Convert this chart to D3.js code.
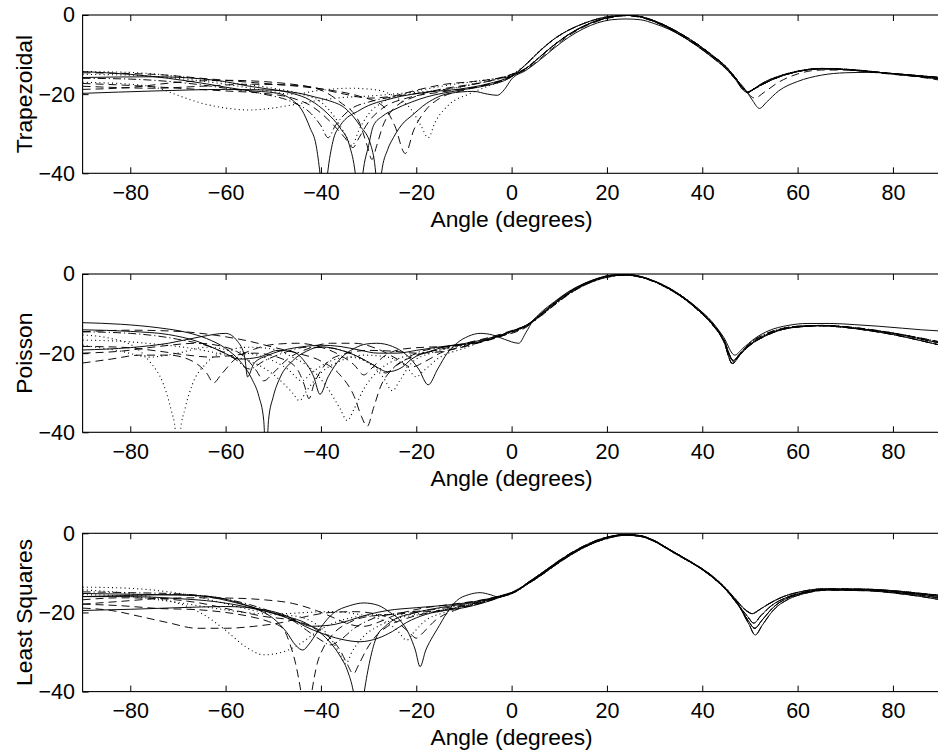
<!DOCTYPE html>
<html><head><meta charset="utf-8">
<script src="https://cdn.jsdelivr.net/npm/d3@7"></script>
<style>
body{margin:0;background:#fff;}
svg{display:block;font-family:"Liberation Sans",Arial,Helvetica,sans-serif;}
</style></head>
<body><svg id="chart" width="938" height="751"></svg>
<script>
// ---------- ticks / labels ----------
const angleTicks = [-80,-60,-40,-20,0,20,40,60,80];
const dbTicks = [0,-20,-40];
const panelLabels = ["Trapezoidal","Poisson","Least Squares"];
const xLabel = "Angle (degrees)";

// ---------- Trapezoidal: main lobe variants (3..90 deg) ----------
const trapMainA = [[3,-13.5],[6,-10.5],[9,-7.5],[12,-4.9],[15,-2.9],[18,-1.4],[21,-0.5],[24,-0.1],[27,-0.4],[30,-1.5],[33,-3.1],[36,-5.1],[39,-7.4],[42,-10.1],[45,-13.1],[47,-15.9],[48.5,-18.4],[49.5,-19.4],[51,-18.6],[53,-17.3],[56,-15.7],[60,-14.3],[65,-13.6],[70,-13.8],[75,-14.3],[80,-14.8],[85,-15.3],[90,-15.8]];
const trapMainB = [[3,-12.5],[6,-9],[9,-6],[12,-3.8],[15,-2.2],[18,-1],[21,-0.3],[24,-0.1],[27,-0.5],[30,-1.7],[33,-3.4],[36,-5.5],[39,-7.9],[42,-10.6],[45,-13.6],[47,-16.3],[48.5,-18.8],[49.5,-19.6],[51,-18.5],[53,-17],[56,-15.5],[60,-14.2],[65,-13.5],[70,-13.7],[75,-14.2],[80,-14.9],[85,-15.5],[90,-16.2]];
const trapMainC = [[3,-14],[6,-11.3],[9,-8.3],[12,-5.6],[15,-3.5],[18,-2],[21,-1.2],[24,-1],[27,-1.2],[30,-2.2],[33,-3.6],[36,-5.5],[39,-7.7],[42,-10.3],[45,-13.3],[47,-16],[49,-18.8],[50.5,-21.5],[52,-23.6],[53.5,-22],[56,-19.2],[60,-16.8],[65,-15.2],[70,-14.6],[75,-14.5],[80,-14.8],[85,-15.3],[90,-16]];
const trapMainD = [[3,-13.8],[6,-11],[9,-8],[12,-5.2],[15,-3.1],[18,-1.6],[21,-0.6],[24,-0.2],[27,-0.6],[30,-1.7],[33,-3.3],[36,-5.3],[39,-7.6],[42,-10.3],[45,-13.3],[47,-16.2],[49,-19],[51,-21],[53,-19.5],[56,-17],[60,-14.9],[65,-13.9],[70,-13.9],[75,-14.4],[80,-15],[85,-15.6],[90,-16.5]];
// ---------- Trapezoidal: sidelobe region (-90..0 deg) ----------
const trapS1 = [[-90,-14.3],[-80,-15],[-72,-16],[-64,-17.4],[-56,-19],[-49,-19.8],[-46,-21.5],[-44,-24],[-42.3,-28.5],[-41,-33],[-40.2,-40],[-39.4,-50],[-38.6,-40],[-37.5,-32],[-36,-28],[-31.8,-24],[-24.8,-21],[-17.8,-19.5],[-10.8,-18.7],[-5,-17.4],[0,-15.5]];
const trapS2 = [[-90,-19.8],[-75,-19.2],[-60,-18.8],[-50,-19],[-46,-19.8],[-42.3,-21.5],[-38.7,-24.8],[-36,-28.5],[-34,-33],[-32.8,-40],[-32,-50],[-31.2,-40],[-30,-33],[-29,-28],[-27,-25.5],[-24.8,-24],[-21,-22],[-17.8,-20.7],[-10.8,-19],[-6,-18],[0,-15.6]];
const trapS3 = [[-90,-15.8],[-75,-15.6],[-62,-16.5],[-55,-18],[-48,-19.2],[-44.4,-19.8],[-41,-20.8],[-38.7,-21.5],[-34.5,-24],[-31.8,-28],[-29.5,-33],[-28.5,-40],[-27.9,-50],[-27.3,-40],[-26,-34],[-24.8,-31],[-22.5,-27],[-21.3,-25.8],[-17.8,-22.3],[-13,-19.8],[-8,-19.3],[-5,-20],[-3,-20.3],[-1.5,-18.8],[0,-16.2]];
const trapD1 = [[-90,-17.3],[-80,-17.8],[-70,-18.5],[-60,-19.2],[-52,-19.8],[-46,-21],[-42,-23],[-38,-27],[-35,-31],[-33.3,-33.5],[-32,-31],[-30,-27],[-27,-23.5],[-22,-21],[-15,-19.5],[-8,-18.3],[-3,-17],[0,-15.3]];
const trapD2 = [[-90,-18],[-75,-18.5],[-65,-18],[-55,-17.5],[-45,-17.8],[-40,-19],[-36,-22],[-32,-27],[-30.3,-33],[-29.3,-36.5],[-28.3,-33],[-27,-28],[-25,-24],[-20,-20.5],[-15,-18.8],[-10,-17.8],[-5,-16.8],[0,-15]];
const trapD3 = [[-90,-14.6],[-75,-15],[-65,-16],[-55,-17],[-45,-18],[-38,-19],[-32,-20.5],[-27,-23],[-24.5,-28],[-22.3,-35],[-20.5,-29],[-18,-24],[-15,-21],[-10,-19],[-5,-17.5],[0,-15.5]];
const trapD4 = [[-90,-18.8],[-80,-18.3],[-70,-17],[-60,-16.5],[-50,-17],[-42,-18.2],[-35,-20],[-30,-21],[-25,-20.5],[-20,-19],[-14,-17.5],[-8,-16.8],[-3,-16],[0,-15]];
const trapP1 = [[-90,-17],[-80,-17.5],[-74,-18.5],[-70,-20.3],[-65,-22.3],[-60,-23.5],[-55,-24],[-50,-23.5],[-45,-22.5],[-40,-21.5],[-35,-20.8],[-30,-20.5],[-25,-20],[-20,-19.5],[-15,-19],[-10,-18],[-5,-16.5],[0,-15]];
const trapP2 = [[-90,-14.3],[-80,-14.5],[-70,-15.5],[-60,-17],[-50,-18.5],[-44,-20],[-40,-22],[-37,-26],[-35,-30],[-33.5,-33],[-32,-29],[-30,-25],[-27,-22],[-22,-19.8],[-17,-18.5],[-12,-17.5],[-6,-16.5],[0,-15.2]];
const trapP3 = [[-90,-15],[-80,-15.2],[-70,-16],[-60,-17.5],[-52,-19],[-46,-20],[-40,-19],[-34,-18.5],[-28,-19],[-24,-21],[-21,-24],[-19,-28],[-17.5,-31],[-16,-27],[-13,-22.5],[-9,-20],[-5,-18],[0,-15.5]];
const trapDD1 = [[-90,-16],[-80,-16.2],[-70,-17],[-60,-18.5],[-52,-20],[-46,-22],[-42,-25],[-40,-28],[-38.5,-31],[-37,-28],[-34,-24],[-30,-22],[-25,-20.7],[-18,-19.5],[-10,-18],[-4,-16.5],[0,-15.3]];

// ---------- Poisson: main lobe variants (6..90 deg) ----------
const poisMainA = [[6,-10.2],[9,-7.2],[12,-4.6],[15,-2.6],[18,-1.2],[21,-0.3],[24,-0.1],[27,-0.6],[30,-1.8],[33,-3.5],[36,-5.8],[39,-8.7],[42,-12.3],[44.5,-16.5],[46.5,-21.8],[48,-20],[50,-17.8],[53,-15.6],[56,-14.2],[60,-13.3],[65,-13],[70,-13.4],[75,-14.1],[80,-15],[85,-16.2],[90,-17.5]];
const poisMainB = [[6,-10.5],[9,-7.5],[12,-4.9],[15,-2.8],[18,-1.3],[21,-0.4],[24,-0.2],[27,-0.7],[30,-1.9],[33,-3.7],[36,-6],[39,-9],[42,-12.6],[44.5,-17],[46.3,-22.6],[48,-20.3],[50,-18],[53,-15.8],[56,-14.3],[60,-13.4],[65,-13.1],[70,-13.5],[75,-14.3],[80,-15.3],[85,-16.6],[90,-18]];
const poisMainC = [[6,-9.9],[9,-7],[12,-4.4],[15,-2.5],[18,-1.1],[21,-0.3],[24,-0.2],[27,-0.7],[30,-1.9],[33,-3.6],[36,-5.8],[39,-8.6],[42,-12],[44.5,-16],[46.8,-20.5],[48.5,-18.8],[51,-16.3],[54,-14.3],[58,-13],[62,-12.5],[67,-12.5],[72,-12.8],[77,-13.2],[82,-13.7],[86,-14.1],[90,-14.4]];
const poisMainD = [[6,-10.7],[9,-7.8],[12,-5.1],[15,-3],[18,-1.5],[21,-0.6],[24,-0.3],[27,-0.8],[30,-2],[33,-3.8],[36,-6.1],[39,-9],[42,-12.5],[44.5,-16.8],[46.5,-22],[48.2,-19.8],[50,-17.5],[53,-15.3],[56,-14],[60,-13.2],[65,-13],[70,-13.3],[75,-14],[80,-14.9],[85,-16],[90,-17.2]];
// ---------- Poisson: sidelobe region ----------
const poisS1 = [[-90,-12.3],[-82,-12.7],[-74,-13.6],[-68,-14.8],[-64,-16.3],[-60,-18.8],[-57,-22],[-54.5,-26.5],[-53,-31],[-52,-37],[-51.5,-48],[-51,-37],[-50,-31],[-48.5,-26],[-46,-22],[-43,-19.5],[-40,-18.4],[-36,-19.2],[-32,-21],[-29,-23],[-26,-24.7],[-23,-23.6],[-21,-21.5],[-17,-19.5],[-14,-18.4],[-8,-17.5],[-4,-16.3],[0,-14.4],[3,-13]];
const poisS2 = [[-90,-14.1],[-80,-14.5],[-72,-15.3],[-66,-17],[-61,-19.5],[-57,-21.5],[-53,-21],[-49,-19.3],[-46,-19.6],[-43.5,-22],[-41.5,-26],[-40.2,-30.4],[-38.5,-26],[-36,-21.5],[-33,-18.8],[-30.5,-17.7],[-28.3,-17.5],[-25,-18.3],[-22,-20.5],[-19.5,-24],[-17.5,-28],[-15.5,-24],[-13.5,-20],[-11.5,-17.5],[-9,-15.7],[-6.6,-15],[-4,-15.4],[-1.5,-16.5],[1.5,-17.5],[3,-14.8],[4.5,-11.8]];
const poisS3 = [[-90,-19.2],[-80,-18.6],[-72,-17.5],[-65,-15.8],[-60,-15],[-57.5,-17],[-56,-21],[-55.4,-26],[-54,-22.5],[-51,-20.5],[-47,-19],[-44,-18.4],[-40,-18],[-36,-18.3],[-32,-19.2],[-28,-20],[-24,-20],[-20,-19.3],[-15,-18.4],[-10,-17.6],[-5,-16.3],[0,-14.5],[3,-13]];
const poisD1 = [[-90,-14.6],[-80,-14.2],[-70,-14.5],[-62,-15.5],[-55,-17],[-50,-18.5],[-45,-20],[-40,-22],[-36,-25.5],[-33,-31],[-31.5,-36],[-30.3,-38.5],[-29,-34],[-27.5,-28.5],[-25,-24],[-21,-21],[-16,-19.3],[-10,-17.8],[-5,-16.5],[0,-14.5],[3,-13.2]];
const poisD2 = [[-90,-20],[-82,-19.5],[-74,-18.3],[-66,-17.5],[-60,-18.5],[-56,-21],[-53.5,-24.5],[-52,-27],[-50,-25],[-47,-21.5],[-43,-19],[-38,-17.5],[-33,-17.5],[-28,-19],[-24,-21.5],[-21,-23.5],[-18,-22],[-15,-20],[-10,-18.3],[-5,-16.8],[0,-14.8],[3,-13.3]];
const poisD3 = [[-90,-22.5],[-84,-21.5],[-78,-20.5],[-72,-20.5],[-67,-22],[-64,-25],[-62.5,-27.5],[-61,-25.5],[-58,-21.5],[-54,-19],[-50,-17.8],[-45,-17.5],[-40,-18.5],[-36,-20.5],[-33,-23],[-31,-25.5],[-29.5,-24],[-27,-21],[-23,-19],[-18,-18.5],[-13,-18.3],[-8,-17],[-4,-15.8],[0,-14.3],[3,-13]];
const poisD4 = [[-90,-18.3],[-82,-18.5],[-74,-19.5],[-68,-20.5],[-63,-21],[-58,-20.5],[-54,-20],[-48,-21.5],[-45,-24],[-43.5,-28],[-42.5,-31.5],[-41.5,-28],[-39.5,-23.5],[-36,-20.5],[-30,-19.3],[-25,-19.5],[-20,-20],[-16,-19.8],[-11,-18.7],[-6,-17],[-2,-15.6],[1,-14.6],[3,-13.5]];
const poisP1 = [[-90,-15.4],[-84,-16.3],[-79,-18.5],[-76,-22],[-73,-28],[-71.5,-34],[-70.5,-40],[-70,-48],[-69.5,-40],[-68.5,-34],[-67,-28],[-64,-22.5],[-60,-19.5],[-55,-18.5],[-50,-19],[-46,-21],[-42,-24],[-38.5,-29],[-36,-34],[-34.5,-37],[-33,-34],[-31,-29],[-28,-24.5],[-24,-21.5],[-19,-20],[-14,-19],[-8,-17.5],[-4,-16.2],[0,-14.6],[3,-13.2]];
const poisP2 = [[-90,-16.7],[-82,-17],[-74,-17.8],[-66,-19],[-60,-20.5],[-55,-22],[-51,-24.5],[-48,-27.5],[-46,-30],[-44.5,-32],[-43,-29.5],[-40,-25],[-36,-22],[-31,-20.5],[-26,-21],[-22,-23.5],[-20,-26],[-18.5,-24.5],[-15,-21],[-10,-18.8],[-5,-16.5],[0,-14.5],[3,-13.2]];
const poisP3 = [[-90,-18],[-82,-19.5],[-76,-21],[-70,-20],[-64,-18.5],[-58,-19.5],[-52,-21],[-47,-24],[-44,-27],[-42,-25],[-38,-22],[-34,-21],[-30,-22.5],[-27,-26],[-25,-29.5],[-23.5,-27],[-21,-22.5],[-17,-20],[-12,-18.4],[-6,-17],[-2,-15.5],[1,-14.3],[3,-13.1]];
const poisDD1 = [[-90,-14.6],[-80,-15],[-70,-16.5],[-63,-18.5],[-58,-21.5],[-55,-24],[-52,-22],[-48,-20],[-43,-18.5],[-38,-18.7],[-33,-20.5],[-29,-23],[-26.5,-25],[-24,-23],[-20,-20],[-15,-18.6],[-10,-17.7],[-5,-16.6],[0,-14.7],[3,-13.2]];

// ---------- Least Squares: main lobe variants (3..90 deg) ----------
const lsqMainA = [[3,-12.9],[6,-10.5],[9,-7.9],[12,-5.5],[15,-3.5],[18,-1.9],[21,-0.8],[24,-0.3],[27,-0.6],[30,-1.9],[33,-4],[36,-6.1],[39,-8.2],[42,-10.7],[45,-14],[47,-16.7],[49,-19.3],[50.5,-20.3],[52,-19.3],[54,-17.8],[57,-16],[60.5,-14.8],[66,-14],[74,-14.1],[81,-14.6],[86,-15.2],[90,-15.7]];
const lsqMainB = [[3,-13.1],[6,-10.8],[9,-8.2],[12,-5.8],[15,-3.7],[18,-2.1],[21,-1],[24,-0.5],[27,-0.8],[30,-2.1],[33,-4.2],[36,-6.3],[39,-8.4],[42,-11],[45,-14.3],[47,-17.3],[49.5,-21],[50.8,-22.7],[52.3,-20.8],[54.5,-18.3],[57.5,-16.3],[61,-15],[66,-14.2],[74,-14.3],[81,-15],[86,-15.7],[90,-16.4]];
const lsqMainC = [[3,-13],[6,-10.6],[9,-8],[12,-5.6],[15,-3.6],[18,-2],[21,-0.9],[24,-0.4],[27,-0.7],[30,-2],[33,-4.1],[36,-6.2],[39,-8.3],[42,-10.9],[45,-14.3],[47.5,-18],[49.8,-23],[51.1,-25.7],[52.6,-23.2],[55,-19.3],[58,-16.7],[61.5,-15.2],[66,-14.4],[74,-14.5],[81,-15.2],[86,-16],[90,-16.8]];
const lsqMainD = [[3,-12.8],[6,-10.3],[9,-7.7],[12,-5.3],[15,-3.3],[18,-1.7],[21,-0.7],[24,-0.3],[27,-0.6],[30,-1.9],[33,-4],[36,-6.1],[39,-8.3],[42,-10.8],[45,-14.1],[47.3,-17.5],[49.6,-22],[51,-24],[52.5,-22],[55,-18.6],[58,-16.3],[61.5,-15],[66,-14.2],[74,-14.2],[81,-14.8],[86,-15.4],[90,-16]];
// ---------- Least Squares: sidelobe region ----------
const lsqS1 = [[-90,-15.2],[-80,-15.4],[-70,-15.6],[-63,-16],[-58,-17.3],[-53,-19.4],[-50,-21.5],[-47.2,-25],[-45.3,-28.3],[-43.8,-29.5],[-42.5,-28],[-40.9,-25.2],[-37.4,-20.2],[-34,-18.3],[-31,-17.6],[-28,-18.2],[-25.5,-20],[-23.4,-22],[-21.5,-25.5],[-20.2,-29.5],[-19.2,-33.7],[-18,-29.5],[-16.5,-26],[-15.7,-24.4],[-13.5,-20],[-11.5,-17],[-9,-15.5],[-6.6,-15],[-4.5,-15.5],[-3,-16],[-1,-15.5],[1,-14.3]];
const lsqS2 = [[-90,-16],[-80,-16],[-70,-16.5],[-62,-17.3],[-56,-18.5],[-52.8,-19.4],[-47.2,-21],[-43,-22.8],[-40.9,-24.4],[-38.5,-27],[-36,-31],[-34.5,-34.5],[-33.2,-40],[-32,-50],[-30.9,-40],[-29.7,-32],[-28.3,-26.1],[-26.5,-23.5],[-24.8,-21.9],[-20.6,-20.2],[-13.6,-18.5],[-8,-17.5],[-4,-16.5],[-1,-15.5],[1,-14.5]];
const lsqS3 = [[-90,-19.5],[-80,-19.2],[-70,-18.8],[-60,-18.5],[-52,-19.3],[-47,-21],[-43.2,-23.6],[-40,-25.2],[-36,-26.7],[-31.8,-27.4],[-28,-26.5],[-25,-24.8],[-22,-22.5],[-18,-20.5],[-14,-19.5],[-10,-18.8],[-6,-17.6],[-2,-16],[1,-14.6]];
const lsqS4 = [[-90,-16],[-80,-15.7],[-70,-15.5],[-64,-16],[-58,-17.5],[-52,-19.5],[-48,-21],[-45,-22.3],[-42,-23.5],[-38,-23.2],[-34,-22],[-30,-20.5],[-26,-19.5],[-20,-18.8],[-14,-18.2],[-8,-17.3],[-4,-16.3],[-1,-15.3],[1,-14.5]];
const lsqD1 = [[-90,-17.9],[-82,-18.3],[-74,-19],[-66,-19.3],[-60,-20],[-55,-21],[-51,-22.3],[-48,-24],[-46.5,-28],[-45.3,-33],[-44.2,-40],[-43,-50],[-41.9,-40],[-40.8,-33],[-39.5,-29],[-37.5,-25.5],[-34,-22.5],[-30,-21],[-25,-20.5],[-20,-20],[-15,-19.5],[-10,-18.5],[-6,-17.5],[-2,-16],[1,-14.6]];
const lsqD2 = [[-90,-16.8],[-82,-16.3],[-74,-16.5],[-66,-17.5],[-58,-19.5],[-52,-21],[-46,-22],[-42,-23.5],[-38.5,-26],[-36,-29.5],[-34.5,-33],[-33.2,-35.5],[-32,-33],[-30.5,-29.5],[-28.5,-26],[-26,-23.5],[-22,-21.5],[-17,-20],[-12,-18.8],[-7,-17.5],[-3,-16.2],[1,-14.7]];
const lsqD3 = [[-90,-18.9],[-84,-19.5],[-78,-21],[-72,-22.6],[-66,-24],[-60,-24],[-54,-23.5],[-48,-22.5],[-43,-21],[-38,-20],[-33,-19.8],[-28,-20.5],[-24,-22.5],[-21.5,-25],[-20,-26.5],[-18.5,-25],[-16,-22],[-12,-19.5],[-7,-17.8],[-3,-16.3],[1,-14.7]];
const lsqD4 = [[-90,-17.9],[-82,-17.2],[-74,-16.5],[-66,-16.3],[-58,-16.4],[-52,-16.8],[-46,-17.7],[-41,-19.5],[-37,-21.5],[-34,-23],[-31,-23.5],[-28,-22.5],[-24,-20.5],[-19,-19],[-13,-18],[-7,-17],[-3,-16],[1,-14.6]];
const lsqP1 = [[-90,-14.3],[-82,-15],[-74,-16.5],[-68,-18.5],[-64,-21],[-60,-24.5],[-56,-28.5],[-52,-30.7],[-48,-30],[-44.5,-28],[-41,-25],[-37,-22.5],[-32,-21],[-27,-20.5],[-22,-20.5],[-17,-20],[-12,-18.8],[-7,-17.5],[-3,-16],[1,-14.6]];
const lsqP2 = [[-90,-13.6],[-82,-13.8],[-74,-14.5],[-66,-16],[-60,-17.8],[-54,-19.5],[-48,-20.3],[-43,-20],[-38,-19.8],[-32,-20.5],[-27,-22],[-24,-24.5],[-22,-27],[-20.5,-25],[-18,-22],[-14,-20],[-9,-18.3],[-4,-16.5],[1,-14.7]];
const lsqP3 = [[-90,-15.5],[-80,-16],[-70,-17.5],[-62,-19],[-56,-20],[-50,-20.5],[-45,-21],[-41,-23],[-38,-26.5],[-36,-30.5],[-34.8,-33],[-33.5,-30],[-31,-26],[-28,-23.5],[-24,-21.5],[-19,-20.5],[-14,-19.5],[-9,-18],[-4,-16.4],[1,-14.6]];
const lsqDD1 = [[-90,-14.8],[-80,-15],[-70,-15.3],[-62,-16.2],[-55,-18],[-50,-20],[-46,-22],[-43,-24.5],[-40,-27],[-38,-28.2],[-36,-27],[-33,-24],[-29,-21.5],[-24,-20.2],[-18,-19.5],[-12,-18.5],[-6,-17.2],[-2,-15.8],[1,-14.6]];

// ---------- series tables (built from the arrays above) ----------
const panels = [
  [ [trapS1,trapMainA,"solid"],[trapS2,trapMainB,"solid"],[trapS3,trapMainC,"solid"],
    [trapD1,trapMainD,"dash"],[trapD2,trapMainA,"dash"],[trapD3,trapMainB,"dash"],[trapD4,trapMainA,"dash"],
    [trapP1,trapMainB,"dot"],[trapP2,trapMainA,"dot"],[trapP3,trapMainB,"dot"],[trapDD1,trapMainA,"dashdot"] ],
  [ [poisS1,poisMainA,"solid"],[poisS2,poisMainC,"solid"],[poisS3,poisMainB,"solid"],
    [poisD1,poisMainA,"dash"],[poisD2,poisMainB,"dash"],[poisD3,poisMainD,"dash"],[poisD4,poisMainB,"dash"],
    [poisP1,poisMainD,"dot"],[poisP2,poisMainA,"dot"],[poisP3,poisMainB,"dot"],[poisDD1,poisMainD,"dashdot"] ],
  [ [lsqS1,lsqMainC,"solid"],[lsqS2,lsqMainB,"solid"],[lsqS3,lsqMainD,"solid"],[lsqS4,lsqMainA,"solid"],
    [lsqD1,lsqMainA,"dash"],[lsqD2,lsqMainB,"dash"],[lsqD3,lsqMainD,"dash"],[lsqD4,lsqMainC,"dash"],
    [lsqP1,lsqMainA,"dot"],[lsqP2,lsqMainB,"dot"],[lsqP3,lsqMainA,"dot"],[lsqDD1,lsqMainD,"dashdot"] ]
];

// ---------- layout ----------
const svg = d3.select("#chart");
const left = 82.6, right = 940.6, ph = 158.3;
const tops = [15, 274, 533.3];
const dashes = {solid:null, dash:"8,5", dot:"1,3.2", dashdot:"8,3,1.2,3"};
const x = d3.scaleLinear().domain([-90,90]).range([left,right]);

panels.forEach((series,i)=>{
  const top = tops[i], bottom = top+ph;
  const y = d3.scaleLinear().domain([-40,0]).range([bottom,top]);
  const g = svg.append("g");
  const cid = "clip"+i;
  svg.append("clipPath").attr("id",cid).append("rect")
     .attr("x",left).attr("y",top).attr("width",right-left).attr("height",ph);

  const line = d3.line().x(d=>x(d[0])).y(d=>y(d[1])).curve(d3.curveMonotoneX);
  const lg = g.append("g").attr("clip-path",`url(#${cid})`);
  series.forEach(([side,main,style])=>{
    lg.append("path").datum(side.concat(main))
      .attr("d",line).attr("fill","none").attr("stroke","#000")
      .attr("stroke-width", style==="dot"?1.1:0.95)
      .attr("stroke-dasharray", dashes[style]);
  });

  // frame
  g.append("rect").attr("x",left).attr("y",top).attr("width",right-left).attr("height",ph)
    .attr("fill","none").attr("stroke","#000").attr("stroke-width",1.1);

  // bottom axis with inward ticks
  const xb = g.append("g").attr("transform",`translate(0,${bottom})`)
    .call(d3.axisBottom(x).tickValues(angleTicks).tickSize(-6).tickSizeOuter(0).tickPadding(11.5));
  const xt = g.append("g").attr("transform",`translate(0,${top})`)
    .call(d3.axisTop(x).tickValues(angleTicks).tickSize(-6).tickSizeOuter(0).tickFormat(""));
  const yl = g.append("g").attr("transform",`translate(${left},0)`)
    .call(d3.axisLeft(y).tickValues(dbTicks).tickSize(-6).tickSizeOuter(0).tickPadding(7.6));
  [xb,xt,yl].forEach(a=>{
    a.select(".domain").remove();
    a.selectAll("line").attr("stroke","#000").attr("stroke-width",1);
    a.selectAll("text").attr("fill","#000").style("font-size","21.5px")
      .style("font-family",'"Liberation Sans",Arial,Helvetica,sans-serif');
  });

  g.append("text").attr("x",(left+right)/2).attr("y",bottom+53.3)
    .attr("text-anchor","middle").style("font-size","22.8px").text(xLabel);
  g.append("text").attr("transform",`translate(31.5,${(top+bottom)/2}) rotate(-90)`)
    .attr("text-anchor","middle").style("font-size","22.8px").text(panelLabels[i]);
});
</script></body></html>
